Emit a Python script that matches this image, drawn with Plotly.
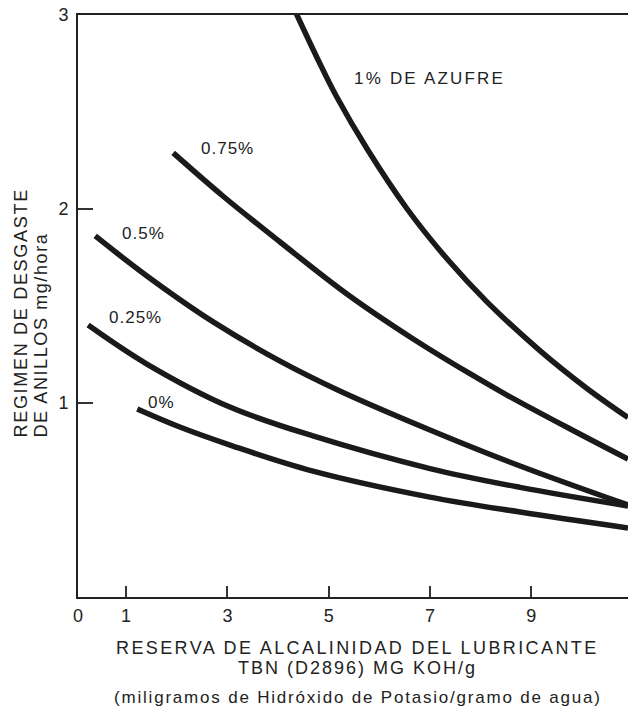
import plotly.graph_objects as go

# ---- data ----
series_names = ["1% DE AZUFRE", "0.75%", "0.5%", "0.25%", "0%"]

x_s100 = [4.32, 4.77, 5.16, 5.76, 6.55, 7.34, 8.13, 9.17, 10.10, 10.91]
y_s100 = [3.03, 2.78, 2.577, 2.309, 2.00, 1.742, 1.52, 1.27, 1.075, 0.925]

x_s075 = [1.93, 2.91, 4.04, 5.36, 6.67, 7.73, 8.52, 9.77, 10.91]
y_s075 = [2.289, 2.067, 1.83, 1.562, 1.33, 1.16, 1.041, 0.866, 0.711]

x_s050 = [0.39, 1.41, 2.72, 4.04, 5.22, 7.00, 8.78, 10.91]
y_s050 = [1.861, 1.655, 1.418, 1.216, 1.062, 0.861, 0.675, 0.474]

x_s025 = [0.25, 1.41, 3.05, 4.69, 7.00, 8.78, 10.91]
y_s025 = [1.402, 1.201, 0.979, 0.830, 0.662, 0.565, 0.469]

x_s000 = [1.22, 2.06, 3.11, 4.69, 7.00, 8.78, 10.91]
y_s000 = [0.969, 0.876, 0.778, 0.649, 0.515, 0.438, 0.356]

x_tickvals = [1, 3, 5, 7, 9]
y_tickvals = [1, 2, 3]

series_x = [x_s100, x_s075, x_s050, x_s025, x_s000]
series_y = [y_s100, y_s075, y_s050, y_s025, y_s000]

# label positions (data coordinates)
label_x = [7.0, 3.01, 1.35, 1.18, 1.69]
label_y = [2.675, 2.31, 1.876, 1.44, 1.005]

FONT = "Liberation Sans, Arial, Helvetica, sans-serif"
INK = "#1a1a1a"
TXT = "#222222"


def spaced(t, sp):
    return f'<span style="letter-spacing:{sp}px">{t}</span>'


fig = go.Figure()
for xs, ys, nm in zip(series_x, series_y, series_names):
    fig.add_trace(go.Scatter(
        x=xs, y=ys, name=nm, mode="lines",
        line=dict(color=INK, width=5.5, shape="spline", smoothing=1.0),
        hoverinfo="skip", showlegend=False,
    ))

ann = []
for t, lx, ly in zip(series_names, label_x, label_y):
    ann.append(dict(x=lx, y=ly, xref="x", yref="y", text=spaced(t, 2.2 if len(t) > 6 else 1.0),
                    showarrow=False, font=dict(size=17, color=TXT, family=FONT),
                    xanchor="center", yanchor="middle"))

# "0" at origin of x axis
ann.append(dict(x=0.05, y=(597 - 616) / 582, xref="x", yref="paper", text="0",
                showarrow=False, font=dict(size=18, color=TXT, family=FONT),
                xanchor="center", yanchor="middle"))

# x-axis title lines
xt = [("RESERVA DE ALCALINIDAD DEL LUBRICANTE", 648, 18, 2.4),
      ("TBN (D2896) MG KOH/g", 668, 18, 2.0),
      ("(miligramos de Hidróxido de Potasio/gramo de agua)", 697, 17, 1.8)]
for t, py, fs, sp in xt:
    ann.append(dict(x=(358 - 78) / 550, y=(597 - py) / 582, xref="paper", yref="paper",
                    text=spaced(t, sp), showarrow=False,
                    font=dict(size=fs, color=TXT, family=FONT),
                    xanchor="center", yanchor="middle"))

# y-axis title lines (rotated)
yt = [("REGIMEN DE DESGASTE", 20, 1.7), ("DE ANILLOS mg/hora", 40, 1.6)]
for t, px, sp in yt:
    ann.append(dict(x=(px - 78) / 550, y=(597 - 440) / 582, xref="paper", yref="paper",
                    text=spaced(t, sp), showarrow=False, textangle=-90,
                    font=dict(size=18, color=TXT, family=FONT),
                    xanchor="center", yanchor="bottom"))

fig.update_layout(
    width=628, height=707,
    margin=dict(l=78, r=0, t=15, b=110),
    paper_bgcolor="white", plot_bgcolor="white",
    font=dict(family=FONT, size=18, color=TXT),
    annotations=ann,
    xaxis=dict(range=[0.05, 10.91], tickvals=x_tickvals, ticks="inside", ticklen=11,
               tickwidth=1.5, tickcolor="#333", showline=True, linecolor="#222",
               linewidth=2, mirror=True, showgrid=False, zeroline=False,
               ticklabelstandoff=1, tickfont=dict(size=18, color=TXT, family=FONT)),
    yaxis=dict(range=[0, 3], tickvals=y_tickvals, ticks="inside", ticklen=15,
               tickwidth=1.5, tickcolor="#333", showline=True, linecolor="#222",
               linewidth=2, showgrid=False, zeroline=False,
               ticklabelstandoff=4, tickfont=dict(size=18, color=TXT, family=FONT)),
)

fig.write_html(
    "out.html",
    config={"displayModeBar": False},
    post_script="document.body.style.margin='0';document.body.style.overflow='hidden';",
)
